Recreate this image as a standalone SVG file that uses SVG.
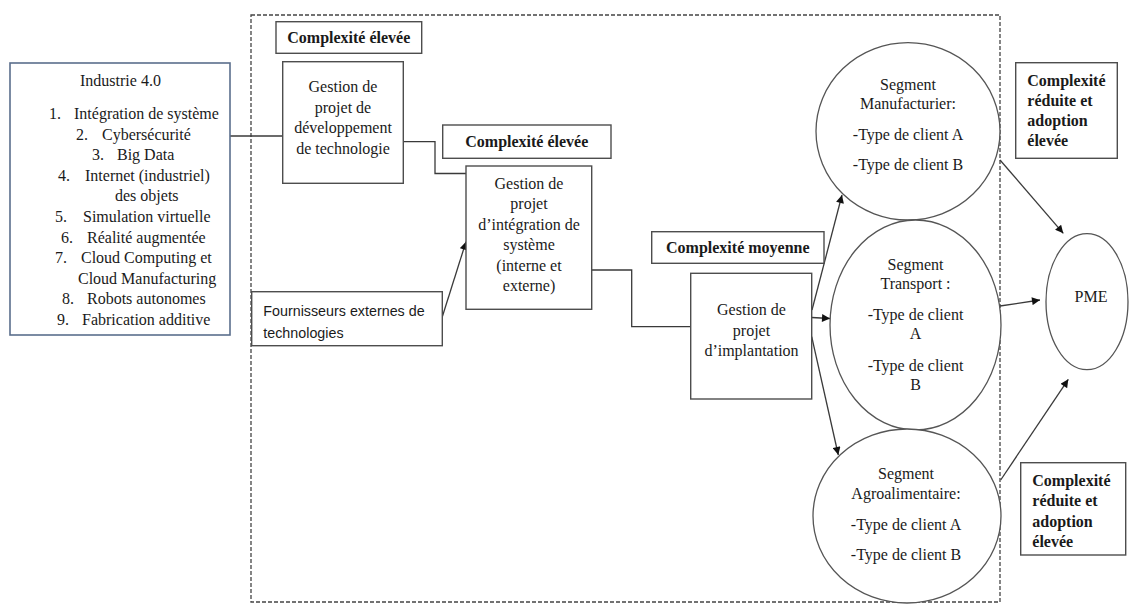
<svg xmlns="http://www.w3.org/2000/svg" width="1131" height="605" viewBox="0 0 1131 605">
  <style>
    .box { fill: #ffffff; stroke: #4d4d4d; stroke-width: 1.4; }
    .ind { fill: #ffffff; stroke: #5a6e8c; stroke-width: 1.6; }
    .ell { fill: #ffffff; stroke: #555555; stroke-width: 1.3; }
    .frame { fill: none; stroke: #444444; stroke-width: 1.3; stroke-dasharray: 4 2; }
    .wire { fill: none; stroke: #3a3a3a; stroke-width: 1.3; }
    .t { font-family: "Liberation Serif", "Times New Roman", serif; font-size: 16px; fill: #1a1a1a; }
    .c { text-anchor: middle; }
    .b { font-weight: bold; }
    .s { font-family: "Liberation Sans", Arial, sans-serif; font-size: 14.3px; fill: #1a1a1a; }
  </style>
  <defs>
    <marker id="arrow" viewBox="0 0 10 10" refX="10" refY="5" markerWidth="10" markerHeight="8" markerUnits="userSpaceOnUse" orient="auto">
      <path d="M0,0 L10,5 L0,10 z" fill="#111111"/>
    </marker>
  </defs>

  <rect width="1131" height="605" fill="#ffffff"/>

  <!-- dashed scope boundary -->
  <rect class="frame" x="251" y="15" width="749" height="587"/>

  <!-- connectors -->
  <g id="connectors">
    <line class="wire" x1="230" y1="136" x2="283" y2="136"/>
    <polyline class="wire" points="403.3,141.7 435,141.7 435,173.5 466,173.5"/>
    <line class="wire" x1="442.3" y1="316.7" x2="466" y2="241.7" marker-end="url(#arrow)"/>
    <polyline class="wire" points="591.7,270 631.7,270 631.7,326.7 690.7,326.7"/>
    <line class="wire" x1="812" y1="310" x2="842" y2="195" marker-end="url(#arrow)"/>
    <line class="wire" x1="811.7" y1="317.5" x2="830" y2="318.5" marker-end="url(#arrow)"/>
    <line class="wire" x1="811.7" y1="336.7" x2="838.3" y2="455" marker-end="url(#arrow)"/>
    <line class="wire" x1="1000" y1="160" x2="1063.3" y2="233.3" marker-end="url(#arrow)"/>
    <line class="wire" x1="1000" y1="306" x2="1040" y2="300" marker-end="url(#arrow)"/>
    <line class="wire" x1="1000.7" y1="480" x2="1068.3" y2="379.3" marker-end="url(#arrow)"/>
  </g>

  <!-- Industrie 4.0 -->
  <g id="industrie">
    <rect class="ind" x="10" y="63" width="220" height="272"/>
    <text class="t" x="80" y="86">Industrie 4.0</text>
    <text class="t" x="49" y="119">1.</text><text class="t" x="74" y="119">Intégration de système</text>
    <text class="t" x="76" y="139.6">2.</text><text class="t" x="102" y="139.6">Cybersécurité</text>
    <text class="t" x="92" y="160.2">3.</text><text class="t" x="117" y="160.2">Big Data</text>
    <text class="t" x="58" y="180.8">4.</text><text class="t" x="85" y="180.8">Internet (industriel)</text>
    <text class="t" x="115" y="201.4">des objets</text>
    <text class="t" x="55" y="222">5.</text><text class="t" x="83" y="222">Simulation virtuelle</text>
    <text class="t" x="61" y="242.6">6.</text><text class="t" x="87" y="242.6">Réalité augmentée</text>
    <text class="t" x="55" y="263.2">7.</text><text class="t" x="81" y="263.2">Cloud Computing et</text>
    <text class="t" x="78" y="283.8">Cloud Manufacturing</text>
    <text class="t" x="62" y="304.4">8.</text><text class="t" x="87" y="304.4">Robots autonomes</text>
    <text class="t" x="57" y="325">9.</text><text class="t" x="82" y="325">Fabrication additive</text>
  </g>

  <!-- complexity labels -->
  <g id="label-dev">
    <rect class="box" x="276" y="21.7" width="145.7" height="31.6"/>
    <text class="t c b" x="348.8" y="43">Complexité élevée</text>
  </g>
  <g id="label-integration">
    <rect class="box" x="442.7" y="125" width="168.3" height="33.3"/>
    <text class="t c b" x="526.8" y="147">Complexité élevée</text>
  </g>
  <g id="label-implantation">
    <rect class="box" x="651.7" y="231.7" width="172.3" height="31.6"/>
    <text class="t c b" x="737.8" y="253">Complexité moyenne</text>
  </g>
  <g id="label-adoption-top">
    <rect class="box" x="1015.7" y="62.7" width="101.6" height="95.6"/>
    <text class="t b" x="1027.3" y="86">Complexité</text>
    <text class="t b" x="1027.3" y="106">réduite et</text>
    <text class="t b" x="1027.3" y="126">adoption</text>
    <text class="t b" x="1027.3" y="146">élevée</text>
  </g>
  <g id="label-adoption-bottom">
    <rect class="box" x="1020.7" y="462.7" width="105" height="92.3"/>
    <text class="t b" x="1032.3" y="486">Complexité</text>
    <text class="t b" x="1032.3" y="506">réduite et</text>
    <text class="t b" x="1032.3" y="527">adoption</text>
    <text class="t b" x="1032.3" y="547">élevée</text>
  </g>

  <!-- project boxes -->
  <g id="dev-techno">
    <rect class="box" x="282.7" y="61.7" width="120.6" height="121.6"/>
    <text class="t c" x="343" y="92">Gestion de</text>
    <text class="t c" x="343" y="112.5">projet de</text>
    <text class="t c" x="343" y="133">développement</text>
    <text class="t c" x="343" y="153.5">de technologie</text>
  </g>
  <g id="fournisseurs">
    <rect class="box" x="251.7" y="291.7" width="190.6" height="54"/>
    <text class="s" x="263.3" y="316">Fournisseurs externes de</text>
    <text class="s" x="263.3" y="338">technologies</text>
  </g>
  <g id="integration">
    <rect class="box" x="466" y="166" width="125.7" height="143.3"/>
    <text class="t c" x="529" y="188.5">Gestion de</text>
    <text class="t c" x="529" y="209">projet</text>
    <text class="t c" x="529" y="229.5">d’intégration de</text>
    <text class="t c" x="529" y="250">système</text>
    <text class="t c" x="529" y="270.5">(interne et</text>
    <text class="t c" x="529" y="291">externe)</text>
  </g>
  <g id="implantation">
    <rect class="box" x="690.7" y="273.3" width="121" height="125.7"/>
    <text class="t c" x="751.5" y="315">Gestion de</text>
    <text class="t c" x="751.5" y="335.5">projet</text>
    <text class="t c" x="751.5" y="356">d’implantation</text>
  </g>

  <!-- market segments -->
  <g id="seg-manufacturier">
    <ellipse class="ell" cx="908" cy="131.3" rx="92" ry="88.7"/>
    <text class="t c" x="908" y="89.5">Segment</text>
    <text class="t c" x="908" y="108.5">Manufacturier:</text>
    <text class="t c" x="908" y="140">-Type de client A</text>
    <text class="t c" x="908" y="170">-Type de client B</text>
  </g>
  <g id="seg-transport">
    <ellipse class="ell" cx="915.5" cy="325" rx="85.5" ry="105"/>
    <text class="t c" x="915.5" y="270">Segment</text>
    <text class="t c" x="915.5" y="288.5">Transport :</text>
    <text class="t c" x="915.5" y="320">-Type de client</text>
    <text class="t c" x="915.5" y="339">A</text>
    <text class="t c" x="915.5" y="371">-Type de client</text>
    <text class="t c" x="915.5" y="390">B</text>
  </g>
  <g id="seg-agro">
    <ellipse class="ell" cx="907" cy="516" rx="94" ry="87"/>
    <text class="t c" x="906" y="478.5">Segment</text>
    <text class="t c" x="906" y="498.5">Agroalimentaire:</text>
    <text class="t c" x="906" y="530">-Type de client A</text>
    <text class="t c" x="906" y="560">-Type de client B</text>
  </g>
  <g id="pme">
    <ellipse class="ell" cx="1087" cy="301.7" rx="41" ry="68"/>
    <text class="t c" x="1091" y="302">PME</text>
  </g>
</svg>
